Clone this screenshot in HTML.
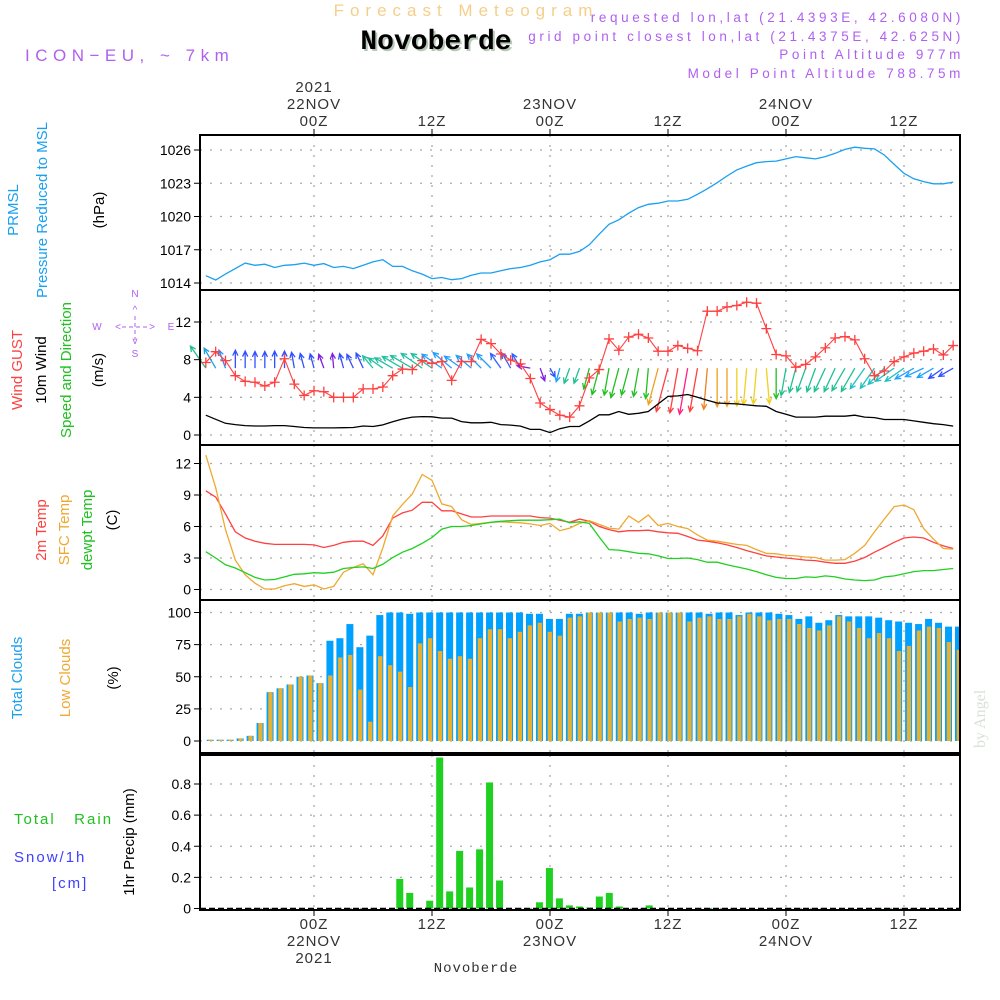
<!DOCTYPE html>
<html><head><meta charset="utf-8"><style>
html,body{margin:0;padding:0;background:#fff;}
svg{display:block;font-family:"Liberation Sans","DejaVu Sans",sans-serif;}
</style></head><body>
<svg id="chart" width="1000" height="1000" xmlns="http://www.w3.org/2000/svg">
<text x="466" y="16" text-anchor="middle" font-size="17" letter-spacing="6" fill="#f5cf8a">Forecast Meteogram</text>
<text x="438" y="51" text-anchor="middle" font-size="28" font-weight="bold" font-family="Liberation Mono, monospace" fill="#b8c8b8">Novoberde</text>
<text x="436" y="49" text-anchor="middle" font-size="28" font-weight="bold" font-family="Liberation Mono, monospace" fill="#000">Novoberde</text>
<text x="25" y="61" font-size="17" letter-spacing="5.5" fill="#b060f0">ICON−EU, ~ 7km</text>
<g font-size="13.5" letter-spacing="3.6" fill="#b060f0" text-anchor="end">
<text x="964" y="22">requested lon,lat (21.4393E, 42.6080N)</text>
<text x="964" y="41">grid point closest lon,lat (21.4375E, 42.625N)</text>
<text x="964" y="59">Point Altitude 977m</text>
<text x="964" y="78">Model Point Altitude 788.75m</text>
</g>
<g id="grid"></g>
<g id="marks"></g>
<g id="frames"></g>
<g id="labels" font-size="14"></g>
<text transform="translate(985,748) rotate(-90)" font-size="16" font-family="Liberation Serif, serif" fill="#d8e0d8">by Angel</text>
<text x="476" y="972" text-anchor="middle" font-size="14" font-family="Liberation Mono, monospace" letter-spacing="1" fill="#333">Novoberde</text>
</svg>
<script>
const hours=[];for(let h=-11;h<=65;h++)hours.push(h);
const pressure=[1014.66,1014.27,1014.8,1015.3,1015.8,1015.6,1015.7,1015.4,1015.6,1015.65,1015.8,1015.6,1015.75,1015.4,1015.5,1015.3,1015.6,1015.9,1016.1,1015.5,1015.5,1015.1,1014.8,1014.4,1014.5,1014.3,1014.4,1014.7,1014.9,1014.9,1015.1,1015.3,1015.4,1015.6,1015.9,1016.1,1016.6,1016.6,1016.85,1017.45,1018.4,1019.3,1019.7,1020.3,1020.8,1021.1,1021.2,1021.4,1021.4,1021.55,1022.0,1022.5,1023.05,1023.65,1024.2,1024.55,1024.85,1024.95,1025.0,1025.2,1025.4,1025.3,1025.2,1025.4,1025.7,1026.05,1026.25,1026.15,1026.1,1025.55,1024.7,1023.9,1023.4,1023.15,1022.95,1022.95,1023.1];
const wind10=[2.1,1.67,1.24,1.1,1.0,0.96,0.96,1.0,1.0,0.9,0.8,0.75,0.75,0.75,0.77,0.8,0.96,0.9,1.07,1.4,1.7,1.9,1.95,1.93,1.8,1.8,1.42,1.3,1.3,1.35,1.1,1.05,0.95,0.6,0.6,0.25,0.67,0.9,0.9,1.5,2.15,2.15,2.5,2.2,2.3,2.5,3.3,4.1,4.15,4.3,4.0,3.7,3.4,3.35,3.3,3.2,3.1,3.05,2.5,2.2,1.9,1.9,1.9,2.0,2.0,2.0,2.1,1.9,1.85,1.65,1.65,1.65,1.5,1.35,1.2,1.1,0.95];
const gust=[7.7,8.85,7.9,6.3,5.7,5.6,5.2,5.6,8.1,5.4,4.2,4.7,4.6,4.0,4.0,4.0,4.9,4.9,5.1,6.3,7.0,6.95,7.9,7.6,7.8,5.8,7.8,7.8,10.15,9.7,8.6,7.95,7.55,6.0,3.4,2.7,2.1,1.9,3.1,6.05,6.95,10.2,9.0,10.4,10.7,10.3,8.9,8.9,9.5,9.2,8.95,13.15,13.15,13.6,13.75,14.1,14.0,11.3,8.55,8.4,7.2,7.5,8.3,9.25,10.3,10.45,10.1,8.1,6.3,6.8,7.8,8.3,8.7,8.9,9.15,8.5,9.5];
const windDir=[-35,-30,-20,0,0,0,0,0,0,-10,-15,-15,-20,-5,-15,-25,-25,-40,-55,-60,-60,-60,-55,-55,-55,-50,-55,-50,-45,-45,-35,-30,-30,-80,160,150,195,200,200,195,195,190,195,195,190,185,195,195,190,190,190,185,180,180,180,185,185,175,180,190,195,200,200,205,205,210,210,215,215,225,235,235,240,245,240,235,240];
const windColor=["#20c090","#20a0e0","#2090ff","#3050ff","#3050ff","#3050ff","#3050ff","#3050ff","#3050ff","#3050ff","#3050ff","#3050ff","#8020e0","#8020e0","#3050ff","#3050ff","#3050ff","#20c0a0","#20c0a0","#20c0a0","#20c0a0","#20c0a0","#20c0a0","#20c0a0","#20a0ff","#20a0ff","#20a0ff","#20a0ff","#20a0ff","#20a0ff","#3060ff","#3060ff","#3060ff","#8020e0","#8020e0","#3050ff","#20a0ff","#20c090","#20c090","#20c020","#20c020","#20c020","#20c020","#20c020","#20c020","#20c020","#f0a020","#ff4040","#ff4040","#ff2080","#ff4040","#f08020","#f0a020","#f0a020","#f0d020","#f0d020","#f0d020","#f0d020","#20c020","#20c090","#20c090","#20c090","#20c090","#20c090","#20c090","#20c090","#20c090","#20c0c0","#20c0c0","#20c0c0","#20c0c0","#20c0c0","#20a0ff","#20a0ff","#20a0ff","#3050ff","#3050ff"];
const temp2m=[9.4,8.8,7.2,5.5,4.9,4.6,4.4,4.3,4.3,4.3,4.3,4.25,4.0,4.2,4.5,4.6,4.6,4.2,5.1,6.8,7.3,7.55,8.3,8.3,7.5,7.5,7.2,6.9,6.9,7.0,7.0,7.0,7.0,7.0,6.85,6.8,6.6,6.4,6.7,6.5,6.0,5.7,5.5,5.6,5.6,5.65,5.5,5.4,5.35,5.05,4.7,4.6,4.45,4.25,4.0,3.7,3.45,3.2,3.1,3.0,2.9,2.8,2.75,2.6,2.5,2.5,2.7,3.05,3.55,4.0,4.5,4.9,5.0,4.9,4.5,4.15,3.9];
const tempSfc=[12.8,9.7,5.7,2.8,1.4,0.6,0.05,0.05,0.35,0.55,0.3,0.45,0.05,0.3,1.65,2.1,2.45,1.4,3.95,7.0,8.1,9.1,10.95,10.4,8.15,7.9,6.65,6.2,6.3,6.4,6.45,6.4,6.35,6.25,6.1,6.3,5.6,5.85,6.3,6.55,6.2,5.85,5.75,7.0,6.4,7.1,6.1,6.3,6.0,5.8,5.2,4.7,4.6,4.45,4.3,4.2,3.8,3.45,3.4,3.25,3.2,3.1,3.05,2.8,2.8,2.85,3.45,4.2,5.5,6.7,7.9,8.05,7.6,5.8,4.8,3.9,3.85];
const dewpt=[3.6,3.0,2.35,2.05,1.6,1.15,0.9,0.95,1.2,1.45,1.5,1.6,1.55,1.65,2.0,2.1,2.15,2.0,2.4,3.05,3.55,3.9,4.4,4.95,5.75,6.0,6.0,6.1,6.25,6.4,6.5,6.55,6.6,6.6,6.6,6.65,6.7,6.35,6.45,6.3,5.0,3.8,3.75,3.6,3.45,3.4,3.2,2.95,2.95,3.0,2.85,2.6,2.6,2.35,2.15,1.95,1.7,1.4,1.15,1.05,1.05,1.2,1.15,1.3,1.2,1.0,0.9,0.85,0.9,1.2,1.3,1.5,1.7,1.8,1.8,1.9,2.0];
const cloudTotal=[1,1,1,2,4,14,38,41,44,50,51,45,78,80,91,73,82,98,100,100,99,100,100,100,100,100,100,100,100,100,100,100,99,99,95,95,99,99,100,100,100,100,100,99,100,100,100,100,100,100,99,100,100,98,100,100,100,99,98,95,97,92,94,98,97,97,97,96,94,93,92,91,95,92,89,89];
const cloudLow=[1,1,1,2,4,14,38,41,44,50,51,45,51,65,67,40,15,66,59,54,42,76,80,70,64,66,64,80,87,87,80,85,90,92,85,82,96,97,100,100,100,93,95,96,95,100,100,100,93,96,97,95,95,97,99,97,94,95,95,91,88,86,90,97,93,88,80,84,80,70,74,86,89,88,77,71];
const precip=[0,0,0,0,0,0,0,0,0,0,0,0,0,0,0,0,0,0,0,0.19,0.10,0,0.05,0.97,0.11,0.37,0.135,0.38,0.81,0.18,0,0,0,0.04,0.26,0.065,0.02,0.013,0.006,0.077,0.10,0.013,0,0,0.02,0,0,0,0,0,0.003,0,0,0,0,0,0,0,0,0,0,0,0,0,0,0,0,0,0.003,0,0,0,0,0,0,0];
const pTicks=[1014,1017,1020,1023,1026];
const wTicks=[0,4,8,12];
const tTicks=[0,3,6,9,12];
const cTicks=[0,25,50,75,100];
const rTicks=[0,0.2,0.4,0.6,0.8];
const timeTicks=[0,12,24,36,48,60];
const timeTop=[["2021","22NOV","00Z"],["","","12Z"],["","23NOV","00Z"],["","","12Z"],["","24NOV","00Z"],["","","12Z"]];
const timeBottom=[["00Z","22NOV","2021"],["12Z","",""],["00Z","23NOV",""],["12Z","",""],["00Z","24NOV",""],["12Z","",""]];

const NS="http://www.w3.org/2000/svg";
const X0=200,X1=960;
const x=h=>314+h*(118/12);
const barX=i=>206.7+i*(955-206.7)/75;
const lin=(v0,v1,p0,p1)=>v=>p0+(v-v0)*(p1-p0)/(v1-v0);
const yP=lin(1014,1026,283,150), yW=lin(0,12,435,322), yT=lin(0,12,589.5,463.5), yC=lin(0,100,741,612.5), yR=lin(0,0.8,908.5,784);
function mk(tag,attrs,parent){const e=document.createElementNS(NS,tag);for(const k in attrs)e.setAttribute(k,attrs[k]);parent.appendChild(e);return e;}
const grid=document.getElementById('grid'),marks=document.getElementById('marks'),frames=document.getElementById('frames'),labels=document.getElementById('labels');
const panels=[[135,290,yP,pTicks,v=>v],[290,445,yW,wTicks,v=>v],[445,600,yT,tTicks,v=>v],[600,753,yC,cTicks,v=>v],[755,910,yR,rTicks,v=>v===0?"0":v.toFixed(1)]];
panels.forEach(([t,b,ys,ticks,fmt],pi)=>{
  ticks.forEach(v=>{const y=ys(v);
    const g=mk('line',{x1:X0,x2:X1,y1:y,y2:y,stroke:'#aaa','stroke-width':1.3,'stroke-dasharray':'2,8'},grid);
    
    
    mk('line',{x1:X0-6,x2:X0,y1:y,y2:y,stroke:'#000','stroke-width':1},frames);
    const tl=mk('text',{x:X0-9,y:y+5,'text-anchor':'end',fill:'#000'},labels);tl.textContent=fmt(v);
    
    
  });
  timeTicks.forEach(h=>{const g=mk('line',{x1:x(h),x2:x(h),y1:t,y2:b,stroke:'#aaa','stroke-width':1.3,'stroke-dasharray':'2,8'},grid);
    
    });
  const r=mk('rect',{x:X0,y:t,width:X1-X0,height:b-t,fill:'none',stroke:'#000','stroke-width':2},frames);
  
  
});
timeTicks.forEach((h,i)=>{
  mk('line',{x1:x(h),x2:x(h),y1:129,y2:135,stroke:'#000'},frames);
  mk('line',{x1:x(h),x2:x(h),y1:910,y2:916,stroke:'#000'},frames);
  timeTop[i].forEach((s,j)=>{if(!s)return;const e=mk('text',{x:x(h),y:92+j*17,'text-anchor':'middle',fill:'#333','font-size':15,'letter-spacing':1},labels);e.textContent=s;
    
    });
  timeBottom[i].forEach((s,j)=>{if(!s)return;const e=mk('text',{x:x(h),y:929+j*17,'text-anchor':'middle',fill:'#333','font-size':15,'letter-spacing':1},labels);e.textContent=s;
    
    });
});
function line(vals,ys,color,name,w){const d=vals.map((v,i)=>(i?'L':'M')+x(hours[i]).toFixed(1)+','+ys(v).toFixed(1)).join('');
  const p=mk('path',{d:d,fill:'none',stroke:color,'stroke-width':w||1.3},marks);
  
  }
line(pressure,yP,'#1aa0f0','pressure-line');
hours.forEach((h,i)=>{const ang=windDir[i]*Math.PI/180,L=8+9*wind10[i];
  const x0=x(h),y0=yW(7.1),x1=x0+L*Math.sin(ang),y1=y0-L*Math.cos(ang);
  const a1=ang+Math.PI-0.45,a2=ang+Math.PI+0.45;
  const g=mk('path',{d:`M${x0},${y0}L${x1},${y1}M${x1+6*Math.sin(a1)},${y1-6*Math.cos(a1)}L${x1},${y1}L${x1+6*Math.sin(a2)},${y1-6*Math.cos(a2)}`,fill:'none',stroke:windColor[i],'stroke-width':1.3},marks);
  
  });
line(wind10,yW,'#000','wind-speed-line');
line(gust,yW,'#ff4040','wind-gust-line',1.1);
hours.forEach((h,i)=>{const cx=x(h),cy=yW(gust[i]);
  const m=mk('path',{d:`M${cx-5},${cy}h10M${cx},${cy-5}v10`,stroke:'#ff4040','stroke-width':1.3},marks);
  
  });
line(temp2m,yT,'#ff4040','temp-2m-line');
line(tempSfc,yT,'#f0a830','temp-sfc-line');
line(dewpt,yT,'#20d020','dewpoint-line');
cloudTotal.forEach((v,i)=>{const bx=barX(i);
  const b=mk('rect',{x:bx,y:yC(v),width:Math.min(7,X1-bx),height:yC(0)-yC(v),fill:'#00a0ff'},marks);
  
  
  const o=mk('rect',{x:bx+1.7,y:yC(cloudLow[i]),width:Math.min(4.3,X1-bx-1.7),height:yC(0)-yC(cloudLow[i]),fill:'#e8b030'},marks);
  
  });
precip.forEach((v,i)=>{if(v<=0)return;const bx=barX(i);
  const b=mk('rect',{x:bx,y:yR(v),width:7,height:yR(0)-yR(v),fill:'#20d020'},marks);
  
  });
mk('line',{x1:X0,x2:X1,y1:yR(0),y2:yR(0),stroke:'#000','stroke-width':1.5,'stroke-dasharray':'6,3'},marks);
const titles=[[18,210,'PRMSL','#1aa0f0'],[47,210,'Pressure Reduced to MSL','#1aa0f0'],[104,210,'(hPa)','#000'],
 [22,370,'Wind GUST','#ff4040'],[46,370,'10m Wind','#000'],[71,370,'Speed and Direction','#20c020'],[103,370,'(m/s)','#000'],
 [46,530,'2m Temp','#ff4040'],[69,530,'SFC Temp','#f0a830'],[92,530,'dewpt Temp','#20c020'],[117,520,'(C)','#000'],
 [22,678,'Total Clouds','#1aa0f0'],[70,678,'Low Clouds','#f0a830'],[118,678,'(%)','#000']];
titles.forEach(([tx,ty,s,c])=>{const e=mk('text',{transform:`translate(${tx},${ty}) rotate(-90)`,'text-anchor':'middle',fill:c,'font-size':15},labels);e.textContent=s;
  
  });
const pt=mk('text',{transform:'translate(134,842) rotate(-90)','text-anchor':'middle',fill:'#000','font-size':15},labels);pt.textContent='1hr Precip (mm)';


[[14,824,'Total   Rain','#20c020'],[14,862,'Snow/1h','#4040ff'],[52,888,'[cm]','#4040ff']].forEach(([tx,ty,s,c])=>{const e=mk('text',{x:tx,y:ty,fill:c,'font-size':15,'letter-spacing':2,style:'white-space:pre'},labels);e.textContent=s;
  
  });
const cg=mk('g',{fill:'#b060f0','font-size':10,'text-anchor':'middle'},labels);


[[135,297,'N'],[135,357,'S'],[97,330,'W'],[171,330,'E'],[135,313,'^'],[135,344,'v'],[118,330,'<'],[152,330,'>']].forEach(([a,b,s])=>{const t=mk('text',{x:a,y:b},cg);t.textContent=s;});
mk('path',{d:'M122,327h26M135,316v24',stroke:'#b060f0','stroke-dasharray':'4,3'},cg);
</script>
</body></html>
